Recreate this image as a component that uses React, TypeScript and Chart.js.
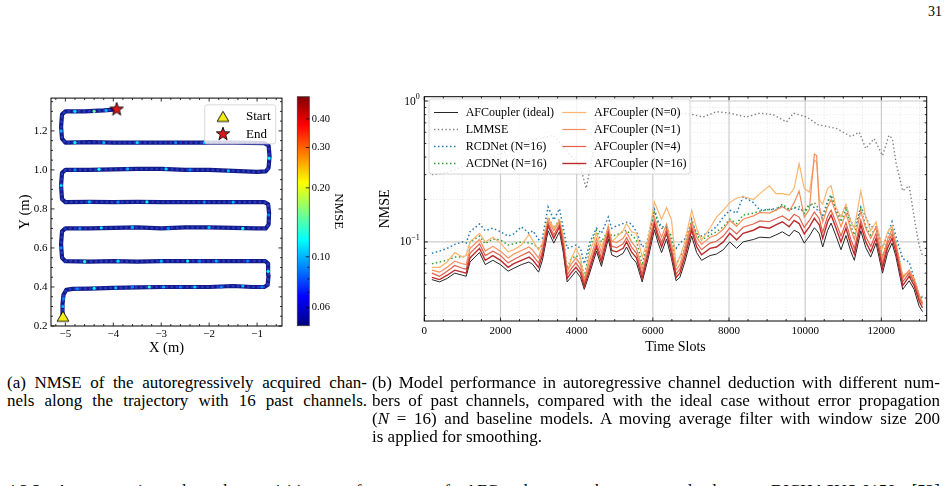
import React, { useEffect, useRef } from "react";
import { Chart, registerables } from "chart.js";

Chart.register(...registerables);

const SERIF = "'Liberation Serif', 'Times New Roman', serif";

// ================= Figure (a): trajectory coloured by NMSE =================
const TRAJECTORY: [number, number][] = [
  [-5.05, 0.25], [-5.06, 0.31], [-5.04, 0.36], [-4.98, 0.385], [-4.85, 0.39], [-4.5, 0.392], [-4.0, 0.395],
  [-3.5, 0.398], [-3.0, 0.4], [-2.5, 0.4], [-2.0, 0.4], [-1.5, 0.405], [-1.1, 0.4], [-0.85, 0.4], [-0.78, 0.41],
  [-0.76, 0.46], [-0.77, 0.52], [-0.83, 0.533],
  [-1.5, 0.533], [-2.0, 0.532], [-2.5, 0.533], [-3.0, 0.532], [-3.5, 0.53], [-4.0, 0.532], [-4.5, 0.53],
  [-5.0, 0.532], [-5.07, 0.55], [-5.09, 0.62], [-5.07, 0.685], [-5.0, 0.7],
  [-4.5, 0.7], [-4.0, 0.703], [-3.5, 0.705], [-3.0, 0.7], [-2.5, 0.705], [-2.0, 0.705], [-1.5, 0.703], [-1.0, 0.7],
  [-0.82, 0.7], [-0.76, 0.72], [-0.75, 0.78], [-0.77, 0.825], [-0.85, 0.835],
  [-1.5, 0.835], [-2.0, 0.835], [-2.5, 0.835], [-3.0, 0.835], [-3.5, 0.836], [-4.0, 0.835], [-4.5, 0.836],
  [-5.0, 0.835], [-5.07, 0.85], [-5.09, 0.92], [-5.07, 0.985], [-5.0, 1.0],
  [-4.5, 1.0], [-4.0, 1.003], [-3.5, 1.005], [-3.0, 1.005], [-2.5, 1.0], [-2.0, 1.0], [-1.5, 0.995], [-1.0, 0.99],
  [-0.82, 0.992], [-0.76, 1.01], [-0.74, 1.07], [-0.76, 1.125], [-0.85, 1.137],
  [-1.5, 1.14], [-2.0, 1.14], [-2.5, 1.14], [-3.0, 1.14], [-3.5, 1.14], [-4.0, 1.14], [-4.5, 1.142], [-5.0, 1.14],
  [-5.07, 1.16], [-5.09, 1.22], [-5.07, 1.285], [-5.0, 1.3],
  [-4.6, 1.3], [-4.2, 1.305], [-3.93, 1.31],
];

// x, y, NMSE of the brighter (higher-error) samples along the path
const HOTSPOTS: [number, number, number][] = [
  [-5.05, 0.3, 0.1], [-5.04, 0.34, 0.09], [-4.75, 0.39, 0.09], [-4.4, 0.393, 0.12], [-3.95, 0.395, 0.1],
  [-3.6, 0.4, 0.09], [-3.25, 0.4, 0.13], [-2.95, 0.4, 0.1], [-2.6, 0.4, 0.09], [-2.3, 0.4, 0.11],
  [-1.75, 0.4, 0.09], [-1.3, 0.405, 0.1], [-0.9, 0.4, 0.09], [-0.77, 0.48, 0.12],
  [-1.2, 0.533, 0.09], [-1.85, 0.533, 0.1], [-2.2, 0.532, 0.09], [-2.45, 0.533, 0.12], [-3.0, 0.532, 0.1],
  [-3.9, 0.532, 0.11], [-4.6, 0.53, 0.13], [-5.09, 0.6, 0.09],
  [-4.7, 0.7, 0.09], [-4.25, 0.703, 0.11], [-3.6, 0.705, 0.1], [-2.85, 0.7, 0.09], [-2.0, 0.705, 0.1],
  [-1.3, 0.7, 0.12], [-0.76, 0.77, 0.09],
  [-1.5, 0.835, 0.1], [-2.1, 0.835, 0.09], [-3.3, 0.836, 0.12], [-3.9, 0.835, 0.09], [-4.5, 0.836, 0.1],
  [-5.09, 0.92, 0.11],
  [-4.8, 1.0, 0.09], [-4.3, 1.003, 0.12], [-3.7, 1.005, 0.1], [-2.9, 1.005, 0.11], [-2.4, 1.0, 0.09],
  [-1.6, 0.995, 0.1], [-0.75, 1.06, 0.12],
  [-2.1, 1.14, 0.1], [-2.7, 1.14, 0.09], [-3.5, 1.14, 0.11], [-4.2, 1.14, 0.1], [-4.8, 1.14, 0.12],
  [-5.09, 1.2, 0.1],
  [-4.8, 1.3, 0.11], [-4.4, 1.3, 0.15], [-4.15, 1.305, 0.1],
];

const START_POINT = { x: -5.05, y: 0.25 };
const END_POINT = { x: -3.93, y: 1.31 };

const A_X_TICKS = [-5, -4, -3, -2, -1];
const A_X_MINOR = [-5.2, -4.8, -4.6, -4.4, -4.2, -3.8, -3.6, -3.4, -3.2, -2.8, -2.6, -2.4, -2.2, -1.8, -1.6, -1.4, -1.2, -0.8, -0.6];
const A_Y_TICKS = [0.2, 0.4, 0.6, 0.8, 1.0, 1.2];
const A_Y_MINOR = [0.25, 0.3, 0.35, 0.45, 0.5, 0.55, 0.65, 0.7, 0.75, 0.85, 0.9, 0.95, 1.05, 1.1, 1.15, 1.25, 1.3, 1.35];

const CB_MIN = 0.05;
const CB_MAX = 0.5;
const CB_TICKS = [0.06, 0.1, 0.2, 0.3, 0.4];
const CB_MINOR = [0.07, 0.08, 0.09];

// ================= Figure (b): NMSE over time slots =================
const TIME_SLOTS = [
  200, 400, 600, 800, 1000, 1100, 1200, 1450, 1600, 1800,
  2000, 2200, 2350, 2550, 2750, 2850, 3000, 3100, 3250, 3400,
  3550, 3650, 3750, 3850, 3980, 4100, 4200, 4350, 4520, 4650,
  4830, 4920, 5050, 5220, 5310, 5440, 5570, 5720, 5880, 6040,
  6140, 6230, 6360, 6490, 6610, 6710, 6840, 7020, 7150, 7280,
  7500, 7670, 7850, 8020, 8200, 8370, 8640, 8810, 9060, 9230,
  9400, 9580, 9710, 9840, 9975, 10110, 10240, 10300, 10370, 10460,
  10590, 10680, 10810, 10940, 11070, 11200, 11290, 11460, 11590, 11720,
  11860, 12030, 12160, 12280, 12380, 12560, 12730, 12860, 12990, 13080,
];

const AFC_IDEAL = [
  0.054, 0.052, 0.055, 0.060, 0.058, 0.057, 0.072, 0.084, 0.069, 0.074,
  0.069, 0.062, 0.065, 0.069, 0.072, 0.069, 0.061, 0.074, 0.120, 0.098,
  0.118, 0.084, 0.052, 0.056, 0.062, 0.056, 0.046, 0.061, 0.086, 0.067,
  0.105, 0.081, 0.078, 0.083, 0.092, 0.078, 0.071, 0.052, 0.077, 0.122,
  0.098, 0.084, 0.105, 0.076, 0.053, 0.056, 0.072, 0.110, 0.084, 0.074,
  0.080, 0.082, 0.088, 0.100, 0.090, 0.100, 0.104, 0.108, 0.107, 0.112,
  0.118, 0.110, 0.121, 0.116, 0.098, 0.110, 0.126, 0.121, 0.114, 0.092,
  0.121, 0.136, 0.110, 0.088, 0.111, 0.085, 0.074, 0.120, 0.091, 0.078,
  0.098, 0.060, 0.083, 0.098, 0.079, 0.046, 0.053, 0.046, 0.035, 0.032,
];

const RCDNET_16 = [
  0.083, 0.086, 0.090, 0.096, 0.100, 0.098, 0.118, 0.134, 0.120, 0.125,
  0.118, 0.110, 0.114, 0.128, 0.115, 0.120, 0.104, 0.106, 0.177, 0.143,
  0.172, 0.125, 0.090, 0.092, 0.095, 0.090, 0.070, 0.100, 0.125, 0.115,
  0.150, 0.125, 0.130, 0.135, 0.138, 0.134, 0.118, 0.092, 0.100, 0.170,
  0.140, 0.128, 0.128, 0.100, 0.090, 0.098, 0.105, 0.138, 0.115, 0.110,
  0.118, 0.128, 0.150, 0.168, 0.160, 0.210, 0.190, 0.168, 0.170, 0.172,
  0.180, 0.168, 0.175, 0.170, 0.165, 0.185, 0.175, 0.170, 0.165, 0.155,
  0.195, 0.215, 0.168, 0.150, 0.180, 0.140, 0.125, 0.177, 0.150, 0.128,
  0.128, 0.092, 0.112, 0.139, 0.110, 0.076, 0.072, 0.055, 0.042, 0.041,
];

const ACDNET_16 = [
  0.070, 0.072, 0.074, 0.078, 0.078, 0.080, 0.100, 0.110, 0.097, 0.105,
  0.103, 0.095, 0.097, 0.100, 0.098, 0.097, 0.090, 0.095, 0.150, 0.125,
  0.145, 0.110, 0.065, 0.075, 0.080, 0.076, 0.056, 0.092, 0.121, 0.100,
  0.121, 0.110, 0.112, 0.118, 0.121, 0.112, 0.103, 0.068, 0.110, 0.165,
  0.135, 0.125, 0.125, 0.110, 0.068, 0.078, 0.090, 0.145, 0.112, 0.103,
  0.112, 0.118, 0.128, 0.145, 0.135, 0.155, 0.160, 0.165, 0.170, 0.168,
  0.185, 0.170, 0.175, 0.178, 0.160, 0.180, 0.190, 0.180, 0.170, 0.142,
  0.190, 0.215, 0.165, 0.139, 0.170, 0.130, 0.112, 0.170, 0.130, 0.112,
  0.125, 0.080, 0.100, 0.125, 0.100, 0.057, 0.058, 0.052, 0.041, 0.040,
];

const AFC_N0 = [
  0.066, 0.066, 0.072, 0.084, 0.078, 0.080, 0.100, 0.115, 0.100, 0.108,
  0.098, 0.085, 0.088, 0.095, 0.113, 0.102, 0.088, 0.098, 0.148, 0.125,
  0.143, 0.110, 0.060, 0.075, 0.090, 0.078, 0.052, 0.085, 0.115, 0.092,
  0.121, 0.100, 0.108, 0.120, 0.135, 0.118, 0.115, 0.078, 0.105, 0.192,
  0.165, 0.145, 0.175, 0.143, 0.068, 0.078, 0.100, 0.168, 0.125, 0.103,
  0.125, 0.150, 0.168, 0.190, 0.205, 0.210, 0.200, 0.220, 0.250, 0.220,
  0.220, 0.215, 0.240, 0.360, 0.240, 0.225, 0.380, 0.370, 0.200, 0.185,
  0.240, 0.250, 0.175, 0.150, 0.185, 0.140, 0.125, 0.230, 0.150, 0.120,
  0.139, 0.090, 0.117, 0.130, 0.095, 0.058, 0.061, 0.053, 0.042, 0.037,
];

const AFC_N1 = [
  0.063, 0.061, 0.066, 0.073, 0.070, 0.069, 0.090, 0.104, 0.086, 0.093,
  0.086, 0.077, 0.082, 0.087, 0.092, 0.087, 0.077, 0.093, 0.142, 0.120,
  0.140, 0.103, 0.062, 0.069, 0.077, 0.069, 0.054, 0.075, 0.106, 0.084,
  0.130, 0.101, 0.099, 0.106, 0.117, 0.100, 0.090, 0.064, 0.097, 0.150,
  0.124, 0.108, 0.134, 0.097, 0.063, 0.069, 0.091, 0.140, 0.108, 0.096,
  0.108, 0.112, 0.123, 0.142, 0.129, 0.145, 0.153, 0.162, 0.160, 0.168,
  0.178, 0.165, 0.190, 0.230, 0.150, 0.170, 0.420, 0.410, 0.180, 0.138,
  0.178, 0.200, 0.160, 0.128, 0.160, 0.122, 0.104, 0.165, 0.125, 0.106,
  0.128, 0.077, 0.104, 0.122, 0.098, 0.055, 0.063, 0.055, 0.042, 0.037,
];

const AFC_N4 = [
  0.060, 0.057, 0.062, 0.068, 0.065, 0.064, 0.083, 0.097, 0.080, 0.086,
  0.080, 0.071, 0.075, 0.080, 0.085, 0.080, 0.071, 0.086, 0.136, 0.112,
  0.134, 0.096, 0.058, 0.064, 0.071, 0.064, 0.051, 0.069, 0.098, 0.077,
  0.120, 0.093, 0.091, 0.097, 0.107, 0.092, 0.083, 0.059, 0.089, 0.140,
  0.114, 0.099, 0.123, 0.089, 0.059, 0.064, 0.084, 0.129, 0.099, 0.088,
  0.098, 0.101, 0.110, 0.126, 0.114, 0.127, 0.134, 0.141, 0.139, 0.146,
  0.153, 0.142, 0.157, 0.150, 0.127, 0.142, 0.163, 0.155, 0.146, 0.117,
  0.152, 0.168, 0.137, 0.110, 0.137, 0.104, 0.090, 0.143, 0.109, 0.093,
  0.115, 0.070, 0.097, 0.114, 0.092, 0.052, 0.060, 0.052, 0.040, 0.036,
];

const AFC_N16 = [
  0.056, 0.054, 0.058, 0.063, 0.061, 0.060, 0.077, 0.090, 0.074, 0.080,
  0.074, 0.066, 0.070, 0.074, 0.078, 0.074, 0.066, 0.080, 0.130, 0.106,
  0.128, 0.090, 0.055, 0.060, 0.066, 0.060, 0.048, 0.065, 0.092, 0.072,
  0.113, 0.087, 0.085, 0.090, 0.100, 0.085, 0.077, 0.055, 0.083, 0.133,
  0.107, 0.092, 0.115, 0.083, 0.056, 0.060, 0.078, 0.121, 0.092, 0.081,
  0.090, 0.092, 0.100, 0.115, 0.103, 0.115, 0.121, 0.128, 0.125, 0.132,
  0.139, 0.128, 0.142, 0.135, 0.114, 0.128, 0.147, 0.140, 0.132, 0.106,
  0.139, 0.155, 0.125, 0.100, 0.125, 0.095, 0.082, 0.132, 0.100, 0.085,
  0.106, 0.065, 0.090, 0.106, 0.085, 0.049, 0.057, 0.049, 0.038, 0.034,
];

const LMMSE_SLOTS = [
  200, 600, 1200, 2000, 2700, 3400, 3750, 4100, 4250, 4440,
  4525, 4690, 5310, 5920, 6190, 6450, 6890, 7320, 7670, 8020,
  8460, 8810, 9160, 9510, 9690, 10040, 10330, 10810, 11200, 11420,
  11590, 11810, 12030, 12200, 12290, 12380, 12560, 12730, 12910, 12990, 13080,
];
const LMMSE = [
  0.30, 0.31, 0.36, 0.42, 0.52, 0.57, 0.44, 0.34, 0.24, 0.44,
  0.75, 0.80, 0.82, 0.88, 0.84, 0.80, 0.82, 0.77, 0.84, 0.82,
  0.77, 0.82, 0.80, 0.71, 0.82, 0.77, 0.68, 0.64, 0.56, 0.60,
  0.46, 0.54, 0.41, 0.57, 0.54, 0.37, 0.23, 0.25, 0.124, 0.095, 0.080,
];

const B_X_MAX = 13190;
const B_Y_MIN = 0.02745;
const B_Y_MAX = 1.073;
const B_X_MAJOR = [0, 2000, 4000, 6000, 8000, 10000, 12000];
const B_X_MINOR = [500, 1000, 1500, 2500, 3000, 3500, 4500, 5000, 5500, 6500, 7000, 7500, 8500, 9000, 9500, 10500, 11000, 11500, 12500, 13000];
const B_Y_MAJOR = [0.1, 1];
const B_Y_EXPONENTS = ["\u22121", "0"];
const B_Y_MINOR = [0.03, 0.04, 0.05, 0.06, 0.07, 0.08, 0.09, 0.2, 0.3, 0.4, 0.5, 0.6, 0.7, 0.8, 0.9];

// styles (not data)
const SERIES_B = [
  { label: "AFCoupler (ideal)", slots: TIME_SLOTS, values: AFC_IDEAL, color: "#262626", width: 1.0, dash: [] as number[] },
  { label: "LMMSE", slots: LMMSE_SLOTS, values: LMMSE, color: "#7f7f7f", width: 1.4, dash: [1.4, 2.4] },
  { label: "RCDNet (N=16)", slots: TIME_SLOTS, values: RCDNET_16, color: "#1f77b4", width: 1.5, dash: [1.5, 2.5] },
  { label: "ACDNet (N=16)", slots: TIME_SLOTS, values: ACDNET_16, color: "#2ca02c", width: 1.5, dash: [1.5, 2.5] },
  { label: "AFCoupler (N=0)", slots: TIME_SLOTS, values: AFC_N0, color: "#fdb56e", width: 1.2, dash: [] as number[] },
  { label: "AFCoupler (N=1)", slots: TIME_SLOTS, values: AFC_N1, color: "#f68d5c", width: 1.2, dash: [] as number[] },
  { label: "AFCoupler (N=4)", slots: TIME_SLOTS, values: AFC_N4, color: "#e2604b", width: 1.2, dash: [] as number[] },
  { label: "AFCoupler (N=16)", slots: TIME_SLOTS, values: AFC_N16, color: "#bd2a2c", width: 1.4, dash: [] as number[] },
];

// ================= helpers =================
function jet(t: number): string {
  const c = (v: number) => Math.round(255 * Math.max(0, Math.min(1, v)));
  return `rgb(${c(1.5 - Math.abs(4 * t - 3))},${c(1.5 - Math.abs(4 * t - 2))},${c(1.5 - Math.abs(4 * t - 1))})`;
}
const nmseColor = (v: number) => jet(Math.log(v / CB_MIN) / Math.log(CB_MAX / CB_MIN));

function markerPath(g: CanvasRenderingContext2D, kind: string, cx: number, cy: number, r: number) {
  g.beginPath();
  if (kind === "triangle") {
    g.moveTo(cx, cy - r * 0.86);
    g.lineTo(cx + r, cy + r * 0.86);
    g.lineTo(cx - r, cy + r * 0.86);
    g.closePath();
  } else {
    for (let i = 0; i < 10; i++) {
      const rad = i % 2 === 0 ? r : r * 0.4;
      const ang = -Math.PI / 2 + (i * Math.PI) / 5;
      const px = cx + rad * Math.cos(ang);
      const py = cy + rad * Math.sin(ang);
      if (i === 0) g.moveTo(px, py);
      else g.lineTo(px, py);
    }
    g.closePath();
  }
}

function markerCanvas(kind: string, r: number, fill: string): HTMLCanvasElement {
  const size = Math.ceil(2 * r + 4);
  const c = document.createElement("canvas");
  c.width = size;
  c.height = size;
  const g = c.getContext("2d")!;
  markerPath(g, kind, size / 2, size / 2, r);
  g.fillStyle = fill;
  g.fill();
  g.lineWidth = 0.9;
  g.strokeStyle = "#000";
  g.stroke();
  return c;
}

function drawFrame(ctx: CanvasRenderingContext2D, a: any, color = "#000", w = 1) {
  ctx.save();
  ctx.strokeStyle = color;
  ctx.lineWidth = w;
  ctx.strokeRect(a.left, a.top, a.right - a.left, a.bottom - a.top);
  ctx.restore();
}

function drawInwardTicks(ctx: CanvasRenderingContext2D, a: any, xs: any, ys: any,
  xMajor: number[], xMinor: number[], yMajor: number[], yMinor: number[]) {
  ctx.save();
  ctx.strokeStyle = "#000";
  ctx.lineWidth = 0.8;
  const seg = (x1: number, y1: number, x2: number, y2: number) => {
    ctx.beginPath(); ctx.moveTo(x1, y1); ctx.lineTo(x2, y2); ctx.stroke();
  };
  const inX = (v: number) => v >= xs.min && v <= xs.max;
  const inY = (v: number) => v >= ys.min && v <= ys.max;
  const doX = (vals: number[], len: number) => vals.filter(inX).forEach((v) => {
    const x = xs.getPixelForValue(v);
    seg(x, a.bottom, x, a.bottom - len); seg(x, a.top, x, a.top + len);
  });
  const doY = (vals: number[], len: number) => vals.filter(inY).forEach((v) => {
    const y = ys.getPixelForValue(v);
    seg(a.left, y, a.left + len, y); seg(a.right, y, a.right - len, y);
  });
  doX(xMajor, 3.5); doX(xMinor, 2); doY(yMajor, 3.5); doY(yMinor, 2);
  ctx.restore();
}

function roundBox(ctx: CanvasRenderingContext2D, x: number, y: number, w: number, h: number, r: number) {
  ctx.beginPath();
  ctx.moveTo(x + r, y);
  ctx.lineTo(x + w - r, y);
  ctx.arcTo(x + w, y, x + w, y + r, r);
  ctx.lineTo(x + w, y + h - r);
  ctx.arcTo(x + w, y + h, x + w - r, y + h, r);
  ctx.lineTo(x + r, y + h);
  ctx.arcTo(x, y + h, x, y + h - r, r);
  ctx.lineTo(x, y + r);
  ctx.arcTo(x, y, x + r, y, r);
  ctx.closePath();
  ctx.fillStyle = "rgba(255,255,255,0.82)";
  ctx.fill();
  ctx.strokeStyle = "#cfcfcf";
  ctx.lineWidth = 0.8;
  ctx.stroke();
}

const tickFont = { family: SERIF, size: 11 };

// ================= chart builders =================
function makeChartA(canvas: HTMLCanvasElement) {
  const triangle = markerCanvas("triangle", 5.9, "#f4ee16");
  const star = markerCanvas("star", 7, "#e3161b");
  const pts = TRAJECTORY.map(([x, y]) => ({ x, y }));

  const plugin = {
    id: "plotA",
    afterDatasetsDraw(chart: any) {
      const { ctx, chartArea: a, scales } = chart;
      drawFrame(ctx, a);
      drawInwardTicks(ctx, a, scales.x, scales.y, A_X_TICKS, A_X_MINOR, A_Y_TICKS, A_Y_MINOR);
      // legend
      const bx = a.right - 77.3, by = a.top + 6.7;
      roundBox(ctx, bx, by, 71, 39, 2.5);
      const mx = bx + 18.3;
      ctx.drawImage(triangle, mx - triangle.width / 2, by + 11.6 - triangle.height / 2);
      ctx.drawImage(star, mx - star.width / 2, by + 29.3 - star.height / 2);
      ctx.fillStyle = "#000";
      ctx.font = `13px ${SERIF}`;
      ctx.textAlign = "left";
      ctx.textBaseline = "middle";
      ctx.fillText("Start", bx + 41.3, by + 12);
      ctx.fillText("End", bx + 41.3, by + 29.6);
      // axis titles
      ctx.font = `14.5px ${SERIF}`;
      ctx.textAlign = "center";
      ctx.fillText("X (m)", (a.left + a.right) / 2, a.bottom + 22);
      ctx.save();
      ctx.translate(a.left - 26, (a.top + a.bottom) / 2);
      ctx.rotate(-Math.PI / 2);
      ctx.fillText("Y (m)", 0, 0);
      ctx.restore();
    },
  };

  return new Chart(canvas, {
    type: "scatter",
    data: {
      datasets: [
        { data: pts, showLine: true, borderColor: "#bdbdbd", borderWidth: 1.2, pointRadius: 0, order: 6 } as any,
        { data: pts, showLine: true, borderColor: "#141a84", borderWidth: 4.2, pointRadius: 0, borderJoinStyle: "round", borderCapStyle: "round", order: 5 },
        { data: pts, showLine: true, borderColor: "#2438c4", borderWidth: 2.6, borderDash: [0.5, 4.6], borderCapStyle: "round", pointRadius: 0, order: 4 },
        {
          data: HOTSPOTS.map(([x, y]) => ({ x, y })), showLine: false, pointRadius: 1.6, pointBorderWidth: 0,
          pointBackgroundColor: HOTSPOTS.map((h) => nmseColor(h[2])), backgroundColor: HOTSPOTS.map((h) => nmseColor(h[2])), order: 3,
        },
        { data: [START_POINT], pointStyle: triangle, pointRadius: 6, order: 2 },
        { data: [END_POINT], pointStyle: star, pointRadius: 7, order: 1 },
      ],
    },
    options: {
      animation: false,
      responsive: false,
      events: [],
      layout: { padding: { left: 0, top: 8, right: 7, bottom: 0 } },
      plugins: { legend: { display: false }, tooltip: { enabled: false } },
      scales: {
        x: {
          type: "linear", min: -5.3, max: -0.48,
          grid: { display: false, drawTicks: false }, border: { display: false },
          afterBuildTicks: (s: any) => { s.ticks = A_X_TICKS.map((value) => ({ value })); },
          afterFit: (s: any) => { s.height = 32; },
          ticks: { font: tickFont, color: "#000", padding: 2, maxRotation: 0, autoSkip: false,
            callback: (v: any) => String(v).replace("-", "\u2212") },
        },
        y: {
          type: "linear", min: 0.2, max: 1.368,
          grid: { display: false, drawTicks: false }, border: { display: false },
          afterBuildTicks: (s: any) => { s.ticks = A_Y_TICKS.map((value) => ({ value })); },
          afterFit: (s: any) => { s.width = 51; },
          ticks: { font: tickFont, color: "#000", padding: 3.5, autoSkip: false,
            callback: (v: any) => Number(v).toFixed(1) },
        },
      },
    } as any,
    plugins: [plugin],
  });
}

function makeColorbar(canvas: HTMLCanvasElement) {
  const plugin = {
    id: "cbar",
    afterDatasetsDraw(chart: any) {
      const { ctx, chartArea: a, scales } = chart;
      drawFrame(ctx, a, "#3a3a3a", 0.8);
      ctx.save();
      ctx.strokeStyle = "#000";
      ctx.lineWidth = 0.8;
      const tick = (v: number, len: number) => {
        const y = scales.y.getPixelForValue(v);
        ctx.beginPath(); ctx.moveTo(a.right, y); ctx.lineTo(a.right - len, y); ctx.stroke();
      };
      CB_TICKS.forEach((v) => tick(v, 3.5));
      CB_MINOR.forEach((v) => tick(v, 2));
      ctx.restore();
      ctx.save();
      ctx.fillStyle = "#000";
      ctx.font = `13px ${SERIF}`;
      ctx.textAlign = "center";
      ctx.textBaseline = "middle";
      ctx.translate(58, (a.top + a.bottom) / 2);
      ctx.rotate(Math.PI / 2);
      ctx.fillText("NMSE", 0, 0);
      ctx.restore();
    },
  };
  return new Chart(canvas, {
    type: "bar",
    data: {
      labels: ["NMSE"],
      datasets: [{
        data: [[CB_MIN, CB_MAX]] as any,
        borderWidth: 0,
        barPercentage: 1,
        categoryPercentage: 1,
        backgroundColor: (c: any) => {
          const ch = c.chart;
          const a = ch.chartArea;
          if (!a) return "#000080";
          const g = ch.ctx.createLinearGradient(0, a.bottom, 0, a.top);
          for (let i = 0; i <= 16; i++) g.addColorStop(i / 16, jet(i / 16));
          return g;
        },
      }],
    },
    options: {
      animation: false,
      responsive: false,
      events: [],
      layout: { padding: { left: 17.3, top: 8.7, right: 0, bottom: 12.3 } },
      plugins: { legend: { display: false }, tooltip: { enabled: false } },
      scales: {
        x: { display: false },
        y: {
          type: "logarithmic", position: "right", min: CB_MIN, max: CB_MAX,
          grid: { display: false, drawTicks: false }, border: { display: false },
          afterBuildTicks: (s: any) => { s.ticks = CB_TICKS.map((value) => ({ value })); },
          afterFit: (s: any) => { s.width = 50.7; },
          ticks: { font: { family: SERIF, size: 10.5 }, color: "#000", padding: 2.4, autoSkip: false,
            callback: (v: any) => Number(v).toFixed(2) },
        },
      },
    } as any,
    plugins: [plugin],
  });
}

function makeChartB(canvas: HTMLCanvasElement) {
  const plugin = {
    id: "plotB",
    beforeDatasetsDraw(chart: any) {
      const { ctx, chartArea: a, scales } = chart;
      const xs = scales.x, ys = scales.y;
      ctx.save();
      ctx.beginPath();
      ctx.rect(a.left, a.top, a.right - a.left, a.bottom - a.top);
      ctx.clip();
      const vline = (v: number) => { const x = xs.getPixelForValue(v); ctx.beginPath(); ctx.moveTo(x, a.top); ctx.lineTo(x, a.bottom); ctx.stroke(); };
      const hline = (v: number) => { const y = ys.getPixelForValue(v); ctx.beginPath(); ctx.moveTo(a.left, y); ctx.lineTo(a.right, y); ctx.stroke(); };
      ctx.strokeStyle = "#dedede";
      ctx.lineWidth = 0.8;
      ctx.setLineDash([1, 2]);
      B_X_MINOR.forEach(vline);
      B_Y_MINOR.forEach(hline);
      ctx.setLineDash([]);
      ctx.strokeStyle = "#cccccc";
      ctx.lineWidth = 1.2;
      B_X_MAJOR.forEach(vline);
      B_Y_MAJOR.forEach(hline);
      ctx.restore();
    },
    afterDatasetsDraw(chart: any) {
      const { ctx, chartArea: a, scales } = chart;
      drawFrame(ctx, a);
      drawInwardTicks(ctx, a, scales.x, scales.y, B_X_MAJOR, B_X_MINOR, B_Y_MAJOR, B_Y_MINOR);
      // y tick labels 10^k
      ctx.save();
      ctx.fillStyle = "#000";
      ctx.textAlign = "right";
      ctx.textBaseline = "middle";
      B_Y_MAJOR.forEach((v, i) => {
        const y = scales.y.getPixelForValue(v);
        const exp = B_Y_EXPONENTS[i];
        ctx.font = `8px ${SERIF}`;
        const ew = ctx.measureText(exp).width;
        const xr = a.left - 4.5;
        ctx.fillText(exp, xr, y - 4);
        ctx.font = `11.5px ${SERIF}`;
        ctx.fillText("10", xr - ew, y + 0.5);
      });
      // axis titles
      ctx.textAlign = "center";
      ctx.font = `14px ${SERIF}`;
      ctx.fillText("Time Slots", (a.left + a.right) / 2, a.bottom + 26);
      ctx.translate(a.left - 39, (a.top + a.bottom) / 2);
      ctx.rotate(-Math.PI / 2);
      ctx.fillText("NMSE", 0, 0);
      ctx.restore();
      // legend
      ctx.save();
      const bx = a.left + 4.7, by = a.top + 2.3;
      roundBox(ctx, bx, by, 261, 75, 2.5);
      ctx.font = `12px ${SERIF}`;
      ctx.textAlign = "left";
      ctx.textBaseline = "middle";
      SERIES_B.forEach((s, i) => {
        const col = i < 4 ? 0 : 1;
        const row = i % 4;
        const y = by + 13.5 + row * 17;
        const lx = bx + (col === 0 ? 5 : 133.3);
        ctx.strokeStyle = s.color;
        ctx.lineWidth = s.width;
        ctx.setLineDash(s.dash);
        ctx.beginPath(); ctx.moveTo(lx, y); ctx.lineTo(lx + 24, y); ctx.stroke();
        ctx.setLineDash([]);
        ctx.fillStyle = "#000";
        ctx.fillText(s.label, lx + 31.7, y + 0.5);
      });
      ctx.restore();
    },
  };

  return new Chart(canvas, {
    type: "line",
    data: {
      datasets: SERIES_B.map((s, i) => ({
        label: s.label,
        data: s.slots.map((x, k) => ({ x, y: s.values[k] })),
        borderColor: s.color,
        borderWidth: s.width,
        borderDash: s.dash,
        pointRadius: 0,
        tension: 0,
        fill: false,
        order: SERIES_B.length - i,
      })),
    },
    options: {
      animation: false,
      responsive: false,
      events: [],
      layout: { padding: { left: 0, top: 8.7, right: 21.3, bottom: 0 } },
      plugins: { legend: { display: false }, tooltip: { enabled: false } },
      scales: {
        x: {
          type: "linear", min: 0, max: B_X_MAX,
          grid: { display: false, drawTicks: false }, border: { display: false },
          afterBuildTicks: (s: any) => { s.ticks = B_X_MAJOR.map((value) => ({ value })); },
          afterFit: (s: any) => { s.height = 42; },
          ticks: { font: tickFont, color: "#000", padding: 3.5, maxRotation: 0, autoSkip: false,
            callback: (v: any) => String(v) },
        },
        y: {
          type: "logarithmic", min: B_Y_MIN, max: B_Y_MAX,
          grid: { display: false, drawTicks: false }, border: { display: false },
          ticks: { display: false },
          afterFit: (s: any) => { s.width = 54.3; },
        },
      },
    } as any,
    plugins: [plugin],
  });
}

// ================= page =================
const lineStyle = (left: number, top: number, width: number, justify = true): React.CSSProperties => ({
  position: "absolute",
  left,
  top,
  width,
  fontSize: 17,
  lineHeight: "18px",
  whiteSpace: "nowrap",
  textAlign: justify ? "justify" : "left",
  textAlignLast: justify ? "justify" : "left",
} as React.CSSProperties);

export default function App() {
  const refA = useRef<HTMLCanvasElement>(null);
  const refCB = useRef<HTMLCanvasElement>(null);
  const refB = useRef<HTMLCanvasElement>(null);

  useEffect(() => {
    const charts: Chart[] = [];
    if (refA.current) charts.push(makeChartA(refA.current));
    if (refCB.current) charts.push(makeColorbar(refCB.current));
    if (refB.current) charts.push(makeChartB(refB.current));
    return () => charts.forEach((c) => c.destroy());
  }, []);

  return (
    <div style={{ position: "absolute", left: 0, top: 0, width: 948, height: 486, overflow: "hidden", background: "#fff", fontFamily: SERIF, color: "#000" }}>
      <div style={{ position: "absolute", left: 880, top: 3, width: 62, textAlign: "right", fontSize: 14, lineHeight: "18px" }}>31</div>
      <canvas ref={refA} width={290} height={270} style={{ position: "absolute", left: 0, top: 88 }} />
      <canvas ref={refCB} width={80} height={250} style={{ position: "absolute", left: 280, top: 88 }} />
      <canvas ref={refB} width={578} height={275} style={{ position: "absolute", left: 370, top: 88 }} />

      <div style={lineStyle(7, 374, 360)}>(a) NMSE of the autoregressively acquired chan-</div>
      <div style={lineStyle(7, 392, 360)}>nels along the trajectory with 16 past channels.</div>

      <div style={lineStyle(372, 374, 568)}>(b) Model performance in autoregressive channel deduction with different num-</div>
      <div style={lineStyle(372, 392, 568)}>bers of past channels, compared with the ideal case without error propagation</div>
      <div style={lineStyle(372, 410, 568)}>(<i>N</i> = 16) and baseline models. A moving average filter with window size 200</div>
      <div style={lineStyle(372, 428, 568, false)}>is applied for smoothing.</div>

      <div style={lineStyle(7, 482, 933)}>4.2.3 Autoregressive channel acquisition performance of AFCoupler on the measured dataset DICHASUS-0150 [52]</div>
    </div>
  );
}
